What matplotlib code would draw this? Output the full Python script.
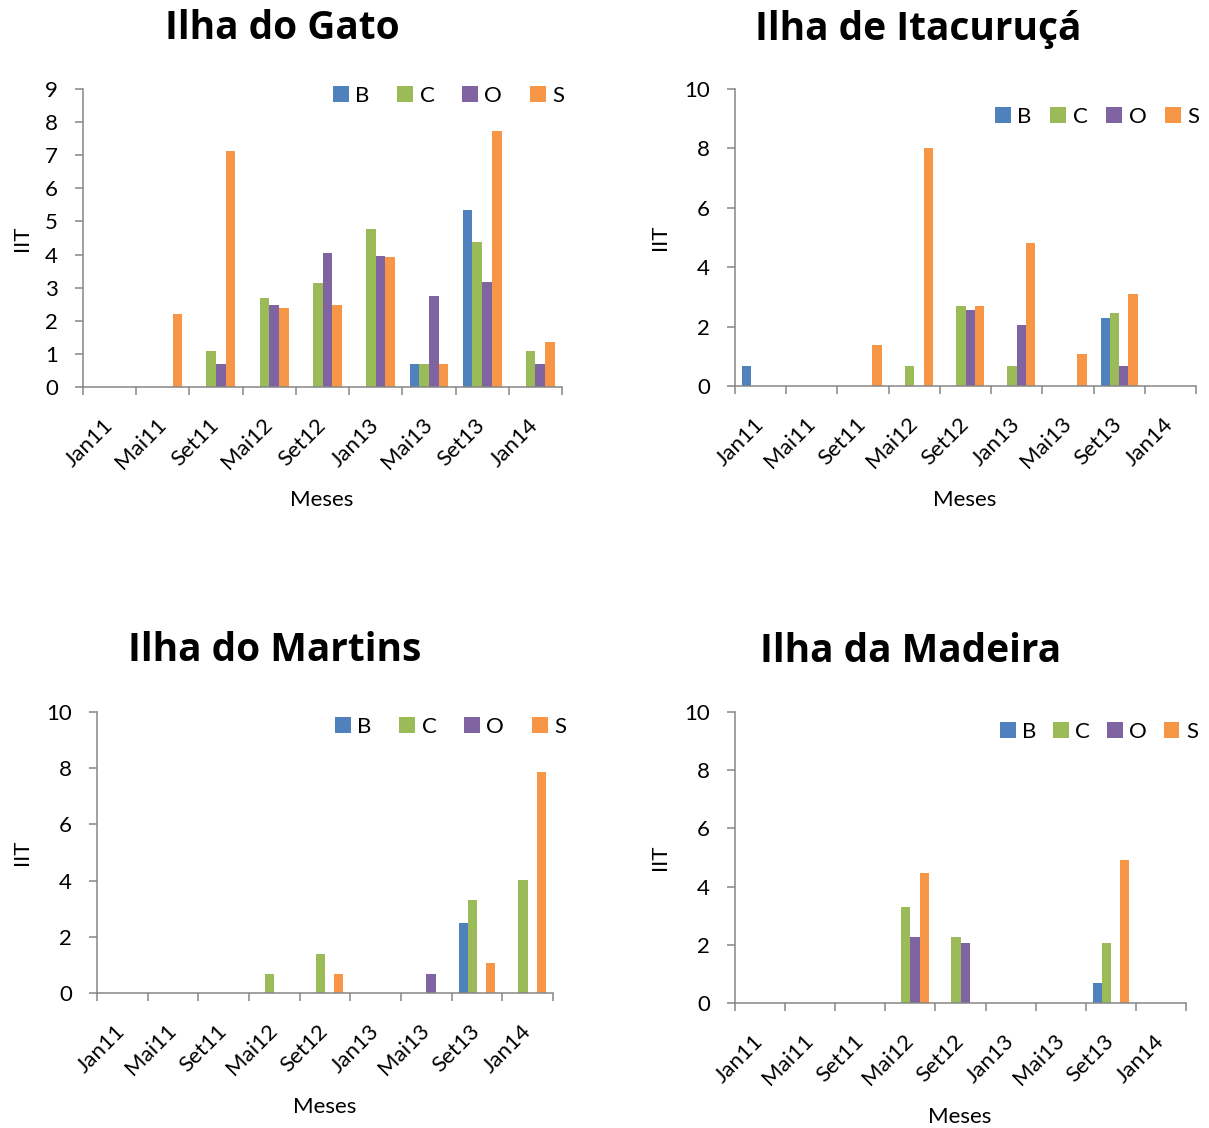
import matplotlib
matplotlib.use("Agg")
import matplotlib.pyplot as plt
from matplotlib.patches import Patch
import numpy as np

plt.rcParams['font.family'] = ['Lato', 'DejaVu Sans']

months = ["Jan11", "Mai11", "Set11", "Mai12", "Set12", "Jan13", "Mai13", "Set13", "Jan14"]
series_names = ["B", "C", "O", "S"]
colors = ["#4F81BD", "#9BBB59", "#8064A2", "#F79646"]

# Ilha do Gato
gato_B = [0, 0, 0, 0, 0, 0, 0.7, 5.35, 0]
gato_C = [0, 0, 1.1, 2.7, 3.15, 4.77, 0.7, 4.37, 1.1]
gato_O = [0, 0, 0.7, 2.47, 4.05, 3.97, 2.75, 3.16, 0.7]
gato_S = [0, 2.2, 7.13, 2.4, 2.47, 3.94, 0.7, 7.74, 1.37]

# Ilha de Itacuruçá
ita_B = [0.67, 0, 0, 0, 0, 0, 0, 2.28, 0]
ita_C = [0, 0, 0, 0.67, 2.7, 0.67, 0, 2.46, 0]
ita_O = [0, 0, 0, 0, 2.55, 2.07, 0, 0.67, 0]
ita_S = [0, 0, 1.37, 8.0, 2.7, 4.8, 1.08, 3.11, 0]

# Ilha do Martins
mar_B = [0, 0, 0, 0, 0, 0, 0, 2.5, 0]
mar_C = [0, 0, 0, 0.68, 1.38, 0, 0, 3.32, 4.01]
mar_O = [0, 0, 0, 0, 0, 0, 0.68, 0, 0]
mar_S = [0, 0, 0, 0, 0.68, 0, 0, 1.08, 7.88]

# Ilha da Madeira
mad_B = [0, 0, 0, 0, 0, 0, 0, 0.69, 0]
mad_C = [0, 0, 0, 3.29, 2.28, 0, 0, 2.06, 0]
mad_O = [0, 0, 0, 2.28, 2.06, 0, 0, 0, 0]
mad_S = [0, 0, 0, 4.46, 0, 0, 0, 4.93, 0]

W, H = 1209, 1128
fig = plt.figure(figsize=(W / 100, H / 100), dpi=100)

def px_rect(l, r, t, b):
    return [l / W, 1 - b / H, (r - l) / W, (b - t) / H]

panels = [
    dict(title="Ilha do Gato", data=[gato_B, gato_C, gato_O, gato_S],
         rect=(83, 562, 89, 387), ymax=9, ystep=1,
         title_xy=(282, 39), ylab_xy=(22, 238), xlab_xy=(322, 500),
         leg_xy=(333, 96), colsp=1.25),
    dict(title="Ilha de Itacuruçá", data=[ita_B, ita_C, ita_O, ita_S],
         rect=(735, 1196, 89, 386), ymax=10, ystep=2,
         title_xy=(918, 40), ylab_xy=(660, 237), xlab_xy=(965, 500),
         leg_xy=(995, 117), colsp=0.85),
    dict(title="Ilha do Martins", data=[mar_B, mar_C, mar_O, mar_S],
         rect=(97, 553, 712, 993), ymax=10, ystep=2,
         title_xy=(275, 661), ylab_xy=(22, 852), xlab_xy=(325, 1107),
         leg_xy=(335, 727), colsp=1.25),
    dict(title="Ilha da Madeira", data=[mad_B, mad_C, mad_O, mad_S],
         rect=(735, 1186, 712, 1003), ymax=10, ystep=2,
         title_xy=(911, 662), ylab_xy=(660, 857), xlab_xy=(960, 1117),
         leg_xy=(1000, 732), colsp=0.75),
]

spine_col = "#868686"
fs = 16
x = np.arange(len(months))
bw = 1 / 5.5
offsets = (np.arange(4) - 1.5) * bw

for p in panels:
    l, r, t, b = p["rect"]
    ax = fig.add_axes(px_rect(l, r, t, b))
    for i, (vals, col) in enumerate(zip(p["data"], colors)):
        ax.bar(x + offsets[i], vals, width=bw, color=col, edgecolor="none", label=series_names[i])
    ax.set_xlim(-0.5, len(months) - 0.5)
    ax.set_ylim(0, p["ymax"])
    yt = np.arange(0, p["ymax"] + 0.01, p["ystep"])
    ax.set_yticks(yt)
    ax.set_yticklabels([str(int(v)) for v in yt])
    ax.set_xticks(np.arange(-0.5, len(months)), labels=[""] * (len(months) + 1))
    ax.set_xticks(x, minor=True)
    ax.set_xticklabels(months, minor=True, rotation=45, ha="right", va="center",
                       rotation_mode="anchor", fontsize=fs)
    ax.tick_params(axis="x", which="minor", length=0, pad=25)
    ax.tick_params(axis="x", which="major", length=6, width=1.1, color=spine_col, direction="out")
    ax.tick_params(axis="y", length=6, width=1.1, color=spine_col, pad=12, labelsize=fs)
    for s in ["top", "right"]:
        ax.spines[s].set_visible(False)
    for s in ["left", "bottom"]:
        ax.spines[s].set_color(spine_col)
        ax.spines[s].set_linewidth(1.1)
    fig.text(p["title_xy"][0] / W, 1 - p["title_xy"][1] / H, p["title"],
             ha="center", va="baseline", fontsize=28, fontweight="bold",
             family=["Open Sans", "DejaVu Sans"])
    fig.text(p["ylab_xy"][0] / W, 1 - p["ylab_xy"][1] / H, "IIT",
             ha="center", va="center", rotation=90, fontsize=fs)
    fig.text(p["xlab_xy"][0] / W, 1 - p["xlab_xy"][1] / H, "Meses",
             ha="center", va="center", fontsize=fs)
    handles = [Patch(facecolor=c, edgecolor="none") for c in colors]
    fig.legend(handles, series_names, loc="center left",
               bbox_to_anchor=(p["leg_xy"][0] / W, 1 - p["leg_xy"][1] / H),
               ncol=4, frameon=False, fontsize=fs, handlelength=0.7, handleheight=0.7,
               handletextpad=0.3, columnspacing=p["colsp"], borderpad=0, borderaxespad=0)

fig.savefig("out.png", dpi=100)
